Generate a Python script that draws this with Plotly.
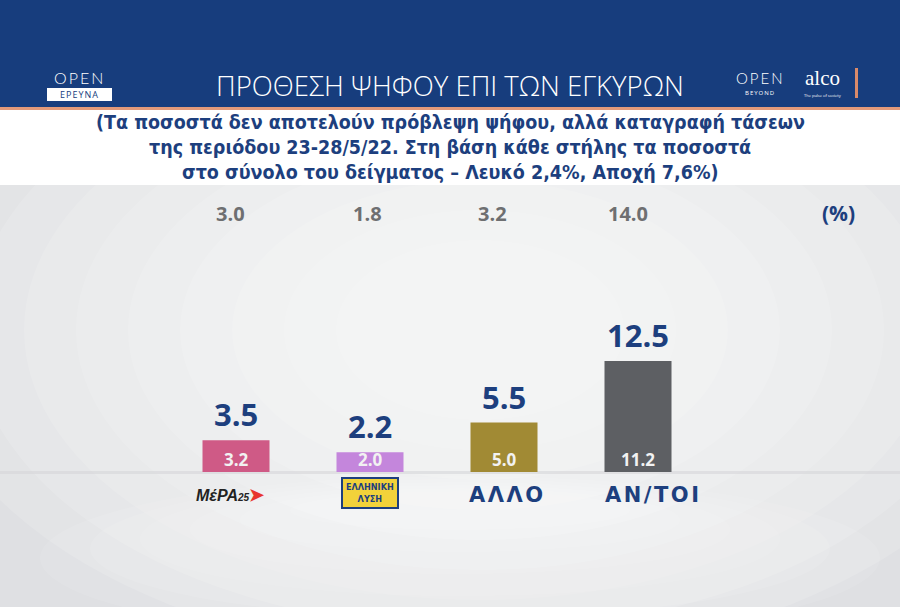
import plotly.graph_objects as go

# ---- data ----
categories = ["ΜέΡΑ25", "ΕΛΛΗΝΙΚΗ ΛΥΣΗ", "ΑΛΛΟ", "ΑΝ/ΤΟΙ"]
sample_values = [3.2, 2.0, 5.0, 11.2]        # inside bars (on total sample)
valid_values = [3.5, 2.2, 5.5, 12.5]         # above bars (on valid votes)
previous_values = [3.0, 1.8, 3.2, 14.0]      # grey row at top
bar_colors = ["#cf5a86", "#c486dc", "#a18a34", "#5d5f63"]

title = "ΠΡΟΘΕΣΗ ΨΗΦΟΥ ΕΠΙ ΤΩΝ ΕΓΚΥΡΩΝ"
subtitle_lines = [
    "(Τα ποσοστά δεν αποτελούν πρόβλεψη ψήφου, αλλά καταγραφή τάσεων",
    "της περιόδου 23-28/5/22. Στη βάση κάθε στήλης τα ποσοστά",
    "στο σύνολο του δείγματος – Λευκό 2,4%, Αποχή 7,6%)",
]

W, H = 900, 607
NAVY = "#1d3f7e"
PX_PER_UNIT = 9.9

def py(px):
    return 1 - px / H

def pxx(px):
    return px / W

fig = go.Figure()
fig.add_trace(go.Bar(
    x=categories, y=sample_values, width=0.5,
    marker=dict(color=bar_colors, line=dict(width=0)),
    hoverinfo="skip",
))

shapes = []
# background glow
shapes.append(dict(type="rect", xref="paper", yref="paper", x0=0, x1=1, y0=0, y1=py(185),
                   fillcolor="#dfe0e3", line_width=0, layer="below"))
for k in range(9):
    rx = 560 - k * 52
    ry = 330 - k * 30
    cx, cy = 480, 330
    shapes.append(dict(type="circle", xref="paper", yref="paper",
                       x0=pxx(cx - rx), x1=pxx(cx + rx), y0=py(cy + ry), y1=py(cy - ry),
                       fillcolor="white", opacity=0.13, line_width=0, layer="below"))
# floor glow
for k in range(6):
    shapes.append(dict(type="circle", xref="paper", yref="paper",
                       x0=pxx(40 + k * 50), x1=pxx(880 - k * 50), y0=py(640 - k * 22), y1=py(476 + k * 3),
                       fillcolor="white", opacity=0.09, line_width=0, layer="below"))
# horizon line
shapes.append(dict(type="rect", xref="paper", yref="paper", x0=0, x1=1, y0=py(474), y1=py(471),
                   fillcolor="#d5d6d9", opacity=0.6, line_width=0, layer="below"))
# header
shapes.append(dict(type="rect", xref="paper", yref="paper", x0=0, x1=1, y0=py(107), y1=1,
                   fillcolor="#173d7d", line_width=0, layer="below"))
shapes.append(dict(type="rect", xref="paper", yref="paper", x0=0, x1=1, y0=py(110), y1=py(107),
                   fillcolor="#e39a7a", line_width=0, layer="below"))
shapes.append(dict(type="rect", xref="paper", yref="paper", x0=0, x1=1, y0=py(185), y1=py(110),
                   fillcolor="white", line_width=0, layer="below"))
# ΕΡΕΥΝΑ box
shapes.append(dict(type="rect", xref="paper", yref="paper", x0=pxx(47), x1=pxx(112), y0=py(101), y1=py(88),
                   fillcolor="white", line_width=0, layer="below"))
# orange vertical bar right
shapes.append(dict(type="rect", xref="paper", yref="paper", x0=pxx(855), x1=pxx(858), y0=py(98), y1=py(68),
                   fillcolor="#d98a6a", line_width=0, layer="below"))

annotations = []

def pann(text, x, y, size, color, family="Open Sans", **kw):
    d = dict(text=text, x=pxx(x), y=py(y), xref="paper", yref="paper", showarrow=False,
             xanchor="center", yanchor="middle", font=dict(family=family, size=size, color=color))
    d["font"].update(kw.pop("font_extra", {}))
    d.update(kw)
    annotations.append(d)

pann(title, 450, 85, 27.5, "white", font_extra=dict(weight=300))
pann("<span style='letter-spacing:2px'>OPEN</span>", 79, 77, 16, "white", family="Lato",
     font_extra=dict(weight=300))
pann("<span style='letter-spacing:1px'>ΕΡΕΥΝΑ</span>", 79.5, 94.5, 9, "#173d7d")
pann("<span style='letter-spacing:2px'>OPEN</span>", 760, 78, 15, "white", family="Lato",
     font_extra=dict(weight=300))
pann("<span style='letter-spacing:1px'>BEYOND</span>", 760, 93, 6, "white")
pann("alco", 822, 78, 21, "white", family="Liberation Serif")
pann("The pulse of society", 822, 95, 4, "white")
for i, line in enumerate(subtitle_lines):
    pann("<b>" + line + "</b>", 450, 123 + i * 24.5, 19.5, NAVY,
         family="Liberation Sans Narrow, DejaVu Sans Condensed")
pann("<b>(%)</b>", 838, 213, 21, NAVY)

prev_shift = [-6, -3, -12, -10]
for c, v, s in zip(categories, previous_values, prev_shift):
    annotations.append(dict(text="<b>%.1f</b>" % v, x=c, y=py(214), xref="x", yref="paper", showarrow=False,
                            xshift=s, xanchor="center", yanchor="middle",
                            font=dict(family="Open Sans", size=20, color="#6e6f71")))

for c, sv, vv in zip(categories, sample_values, valid_values):
    annotations.append(dict(text="<b>%.1f</b>" % vv, x=c, y=sv, xref="x", yref="y", showarrow=False,
                            xanchor="center", yanchor="bottom", yshift=3,
                            font=dict(family="Open Sans", size=31, color=NAVY)))
    annotations.append(dict(text="<b>%.1f</b>" % sv, x=c, y=0, xref="x", yref="y", showarrow=False,
                            xanchor="center", yanchor="bottom", yshift=-1,
                            font=dict(family="Open Sans", size=17, color="#f2f2f2")))

# category labels
annotations.append(dict(text="<b><i>ΜέΡΑ</i></b><span style='font-size:10px'><b><i>25</i></b></span>"
                             "<span style='color:#e8352f;font-size:18px'><b>➤</b></span>",
                        x=categories[0], y=0, xref="x", yref="y", showarrow=False, xanchor="center",
                        yanchor="top", yshift=-11, xshift=-6,
                        font=dict(family="Liberation Sans", size=16, color="#222222")))
annotations.append(dict(text="<b>ΕΛΛΗΝΙΚΗ<br>ΛΥΣΗ</b>", x=categories[1], y=0, xref="x", yref="y",
                        showarrow=False, xanchor="center", yanchor="top", yshift=-5, bgcolor="#f2d23a",
                        bordercolor=NAVY, borderwidth=2, borderpad=3,
                        font=dict(family="Liberation Sans Narrow, DejaVu Sans Condensed", size=9, color=NAVY)))
for c in categories[2:]:
    annotations.append(dict(text="<span style='letter-spacing:2.5px'><b>" + c + "</b></span>", x=c, y=0,
                            xref="x", yref="y", showarrow=False, xanchor="center",
                            yanchor="top", yshift=-9, xshift=3 if c == "ΑΛΛΟ" else 15,
                            font=dict(family="DejaVu Sans", size=21, color=NAVY)))

fig.update_layout(
    width=W, height=H, margin=dict(l=0, r=0, t=0, b=0),
    paper_bgcolor="#dfe0e3", plot_bgcolor="rgba(0,0,0,0)",
    showlegend=False, shapes=shapes, annotations=annotations,
    xaxis=dict(domain=[169 / W, 705 / W], range=[-0.5, 3.5], visible=False, fixedrange=True),
    yaxis=dict(domain=[py(472), py(185)], range=[0, 287 / PX_PER_UNIT], visible=False, fixedrange=True),
)

fig.write_html("out.html")
